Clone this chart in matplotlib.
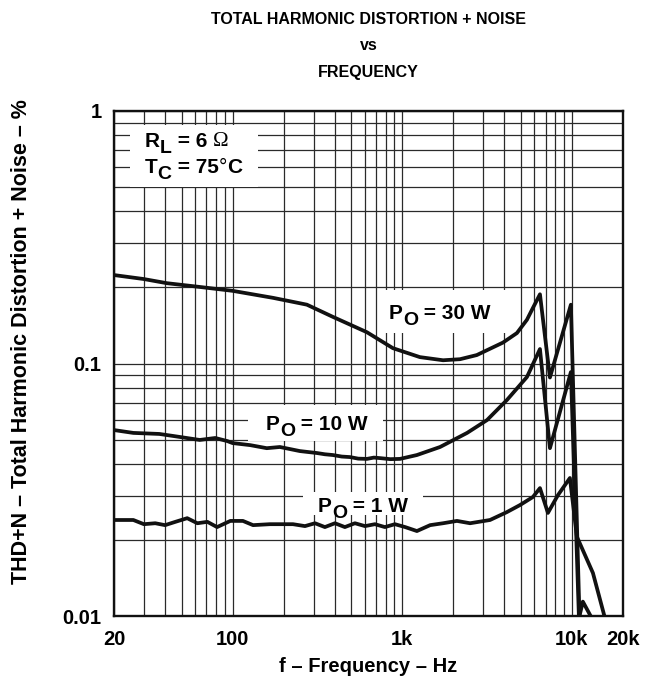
import matplotlib
matplotlib.use("Agg")
import matplotlib.pyplot as plt
from matplotlib.patches import Rectangle
from matplotlib.ticker import LogLocator, NullFormatter, FixedLocator

plt.rcParams['font.family'] = ['Liberation Sans', 'DejaVu Sans']
plt.rcParams['font.weight'] = 'bold'

# ---------------- data ----------------
freq_30w = [20, 30, 41, 64, 100, 173, 274, 390, 619, 881, 1270, 1740, 2190,
            2750, 3920, 4740, 5430, 5890, 6480, 7420, 9860, 11100]
thd_30w = [0.224, 0.216, 0.208, 0.201, 0.194, 0.182, 0.171, 0.153, 0.133,
           0.115, 0.106, 0.103, 0.104, 0.108, 0.121, 0.132, 0.149, 0.166,
           0.188, 0.088, 0.171, 0.0095]

freq_10w = [20, 26, 37, 45, 64, 79, 93, 100, 127, 159, 190, 249, 314, 350,
            390, 440, 492, 550, 619, 680, 739, 850, 970, 1220, 1670, 2410,
            3160, 4140, 5430, 6480, 7420, 9860, 11000, 11600, 13100]
thd_10w = [0.0545, 0.0531, 0.0526, 0.0516, 0.0498, 0.0507, 0.0493, 0.0484,
           0.0475, 0.0462, 0.0467, 0.0450, 0.0442, 0.0437, 0.0434, 0.0428,
           0.0426, 0.0420, 0.0419, 0.0424, 0.0422, 0.0418, 0.0419, 0.0434,
           0.0467, 0.0531, 0.0597, 0.0717, 0.0884, 0.1141, 0.0462, 0.0925,
           0.0098, 0.0114, 0.0098]

freq_1w = [20, 26, 30, 35, 40, 46, 54, 62, 71, 81, 97, 115, 132, 166, 227,
           267, 306, 350, 401, 459, 526, 603, 690, 790, 905, 1040, 1220, 1460,
           1740, 2100, 2510, 3290, 4140, 4940, 5890, 6480, 7220, 8270, 9730,
           10700, 13300, 15600]
thd_1w = [0.0240, 0.0240, 0.0231, 0.0233, 0.0229, 0.0236, 0.0244, 0.0233,
          0.0236, 0.0225, 0.0238, 0.0238, 0.0229, 0.0231, 0.0231, 0.0227,
          0.0233, 0.0225, 0.0233, 0.0225, 0.0233, 0.0227, 0.0231, 0.0225,
          0.0231, 0.0225, 0.0217, 0.0229, 0.0233, 0.0238, 0.0233, 0.0240,
          0.0258, 0.0275, 0.0296, 0.0321, 0.0256, 0.0301, 0.0352, 0.0206,
          0.0148, 0.0099]

x_ticks = [20, 100, 1000, 10000, 20000]
x_labels = ['20', '100', '1k', '10k', '20k']
y_ticks = [0.01, 0.1, 1]
y_labels = ['0.01', '0.1', '1']

# ---------------- figure ----------------
W, H = 662, 688
fig = plt.figure(figsize=(W / 100, H / 100), dpi=100)
L, R, T, B = 114, 623, 111, 616
ax = fig.add_axes([L / W, 1 - B / H, (R - L) / W, (B - T) / H])
ax.set_xscale('log')
ax.set_yscale('log')
ax.set_xlim(20, 20000)
ax.set_ylim(0.01, 1)

ax.xaxis.set_major_locator(FixedLocator(x_ticks))
ax.set_xticklabels(x_labels)
ax.xaxis.set_minor_locator(LogLocator(base=10, subs=range(2, 10), numticks=20))
ax.xaxis.set_minor_formatter(NullFormatter())
ax.yaxis.set_major_locator(FixedLocator(y_ticks))
ax.set_yticklabels(y_labels)
ax.yaxis.set_minor_locator(LogLocator(base=10, subs=range(2, 10), numticks=20))
ax.yaxis.set_minor_formatter(NullFormatter())

ax.tick_params(which='both', length=0)
ax.tick_params(axis='x', pad=10, labelsize=14.5)
ax.tick_params(axis='y', pad=9, labelsize=14.5)
ax.grid(True, which='both', color='#2a2a2a', lw=0.9)
ax.set_axisbelow(True)
for s in ax.spines.values():
    s.set_linewidth(1.7)
    s.set_color('#111111')
    s.set_zorder(5)

# white label boxes that hide the grid
def pxbox(x0, x1, y0, y1):
    ax.add_patch(Rectangle(((x0 - L) / (R - L), (B - y1) / (B - T)),
                           (x1 - x0) / (R - L), (y1 - y0) / (B - T),
                           transform=ax.transAxes, facecolor='white',
                           edgecolor='none', zorder=1))

pxbox(130, 258, 125, 187)
pxbox(378, 506, 290, 333)
pxbox(248, 383, 405, 441)
pxbox(303, 423, 492, 515)

lc = '#111111'
for fx, fy in [(freq_30w, thd_30w), (freq_10w, thd_10w), (freq_1w, thd_1w)]:
    ax.plot(fx, fy, color=lc, lw=2.7, solid_joinstyle='round',
            solid_capstyle='round', zorder=3)

def label(px, py, segs):
    x = (px - L) / (R - L)
    y = (B - py) / (B - T)
    s0, size0, dy0, kw0 = segs[0]
    t = ax.text(x, y, s0, transform=ax.transAxes, fontsize=size0,
                va='baseline', ha='left', zorder=4, **kw0)
    prev_dy = 0
    for s, size, dy, kw in segs[1:]:
        t = ax.annotate(s, xy=(1, 0), xycoords=t, xytext=(0, dy - prev_dy),
                        textcoords='offset points', fontsize=size,
                        va='bottom', ha='left', zorder=4, **kw)
        prev_dy = dy

serif = {'family': 'Liberation Serif', 'weight': 'normal'}
thin = {'weight': 'normal'}
fs, ss = 15, 14
label(145, 147, [('R', fs, 0, {}), ('L', ss, -4.5, {}), (' = 6 ', fs, 0, {}),
                 ('Ω', fs, 0, serif)])
label(145, 173, [('T', fs, 0, {}), ('C', ss, -4.5, {}), (' = 75', fs, 0, {}),
                 ('°', fs, 0, thin), ('C', fs, 0, {})])
label(389, 319, [('P', fs, 0, {}), ('O', ss, -4.5, {}), (' = 30 W', fs, 0, {})])
label(266, 430, [('P', fs, 0, {}), ('O', ss, -4.5, {}), (' = 10 W', fs, 0, {})])
label(318, 512, [('P', fs, 0, {}), ('O', ss, -4.5, {}), (' = 1 W', fs, 0, {})])

cx = (L + R) / 2 / W
fig.text(cx, 1 - 20 / H, 'TOTAL HARMONIC DISTORTION + NOISE', ha='center',
         va='center', fontsize=11.5)
fig.text(cx, 1 - 46 / H, 'vs', ha='center', va='center', fontsize=11.5)
fig.text(cx, 1 - 73 / H, 'FREQUENCY', ha='center', va='center', fontsize=11.5)
fig.text(cx, 1 - 667 / H, 'f – Frequency – Hz', ha='center', va='center',
         fontsize=14.5)
fig.text(22 / W, 1 - 342 / H, 'THD+N – Total Harmonic Distortion + Noise – %',
         ha='center', va='center', rotation=90, fontsize=15.5)

fig.savefig('out.png', dpi=100)
